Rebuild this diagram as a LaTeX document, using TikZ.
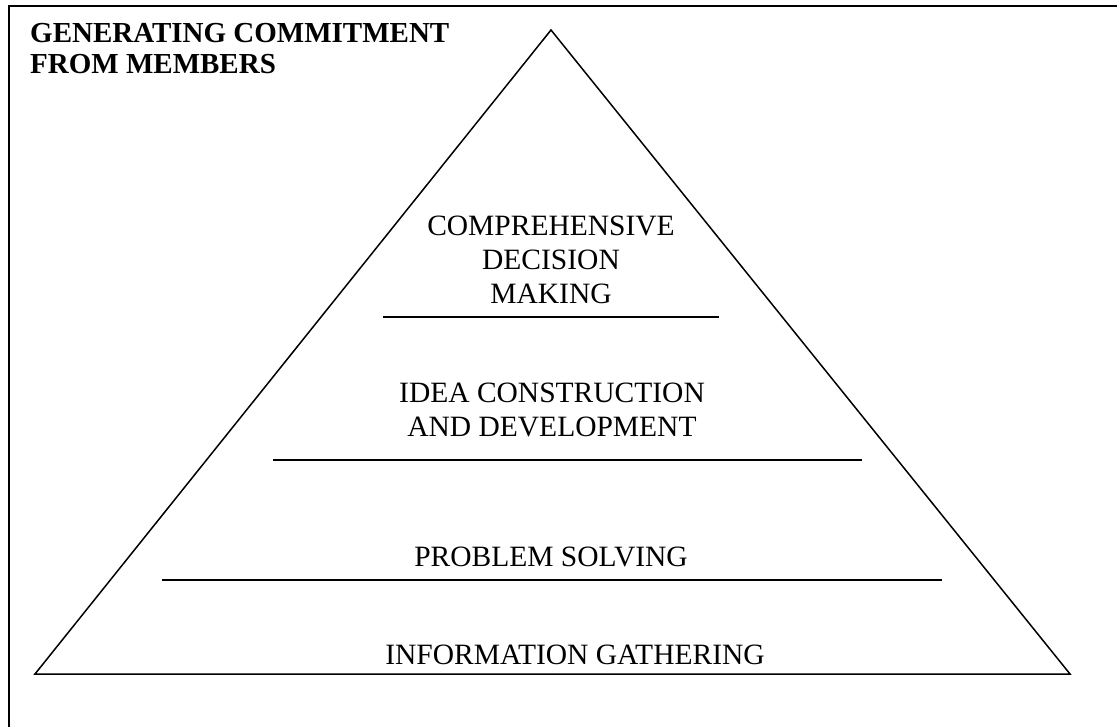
\documentclass[tikz,border=0pt]{standalone}
\usepackage{fontspec}
\setmainfont{Liberation Serif}
\begin{document}
\begin{tikzpicture}[x=1pt,y=-1pt,
  frame/.style={line width=2pt},
  edge/.style={line width=1.5pt,line join=miter},
  tier/.style={line width=1.5pt},
  label/.style={inner sep=0pt,align=center,font=\fontsize{29.5}{34}\selectfont},
  heading/.style={inner sep=0pt,align=left,font=\fontsize{29}{31}\selectfont\bfseries}]
  \useasboundingbox (0,0) rectangle (1117,727);

  % open frame: top and left sides only
  \coordinate (ftr) at (1117,6);
  \coordinate (ftl) at (9,6);
  \coordinate (fbl) at (9,727);
  \draw[frame] (ftr) -- (ftl) -- (fbl);

  % pyramid outline
  \coordinate (apex) at (551,30);
  \coordinate (bl) at (35,674);
  \coordinate (br) at (1070,674);
  \draw[edge] (apex) -- (bl) -- (br) -- cycle;

  % tier dividers
  \coordinate (t1l) at (383,317);  \coordinate (t1r) at (719,317);
  \coordinate (t2l) at (273,460);  \coordinate (t2r) at (862,460);
  \coordinate (t3l) at (162,580);  \coordinate (t3r) at (942,580);
  \draw[tier] (t1l) -- (t1r);
  \draw[tier] (t2l) -- (t2r);
  \draw[tier] (t3l) -- (t3r);

  % heading
  \node[heading,anchor=north west] (title) at (30,23)
    {GENERATING COMMITMENT\\FROM MEMBERS};

  % tier labels
  \node[label] (cdm) at (551,260) {COMPREHENSIVE\\DECISION\\MAKING};
  \node[label] (icd) at (552,410) {IDEA CONSTRUCTION\\AND DEVELOPMENT};
  \node[label] (ps)  at (551,557) {PROBLEM SOLVING};
  \node[label] (ig)  at (575,655) {INFORMATION GATHERING};
\end{tikzpicture}
\end{document}
